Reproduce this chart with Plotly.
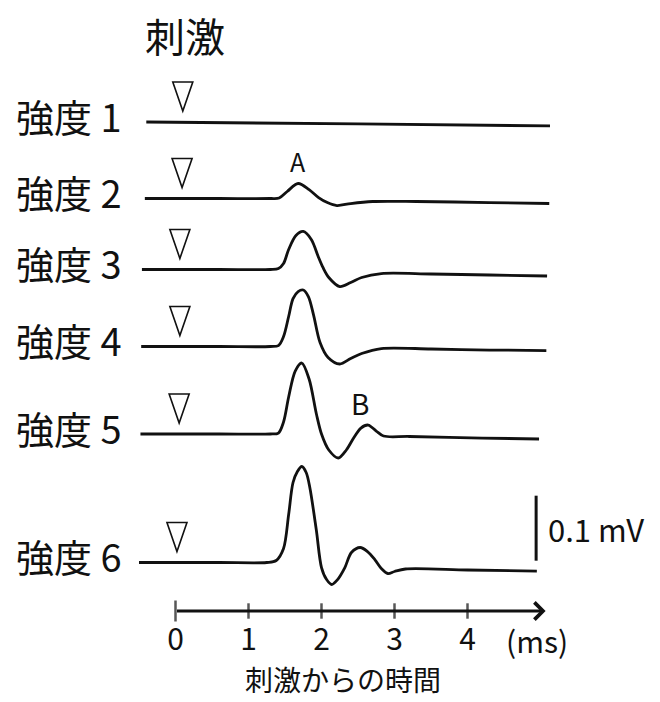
import plotly.graph_objects as go

# ---------------- data ----------------
row_labels = ["強度 1", "強度 2", "強度 3", "強度 4", "強度 5", "強度 6"]

# time (ms) and amplitude (mV, relative to each trace's baseline)
t1 = [-0.40, 2.50, 5.13]
v1 = [0.0000, -0.0030, -0.0060]

t2 = [-0.42, 0.60, 1.30, 1.42, 1.53, 1.68, 1.83, 1.96, 2.08, 2.21, 2.40, 2.70, 3.30, 4.30, 5.12]
v2 = [0.0000, 0.0000, 0.0000, 0.0008, 0.0108, 0.0231, 0.0138, 0.0015, -0.0062, -0.0108,
      -0.0077, -0.0046, -0.0046, -0.0062, -0.0077]

t3 = [-0.46, 0.60, 1.30, 1.41, 1.48, 1.55, 1.65, 1.75, 1.86, 1.96, 2.02, 2.10, 2.25, 2.40,
      2.55, 2.82, 3.50, 4.30, 5.09]
v3 = [0.0000, 0.0000, 0.0000, 0.0015, 0.0092, 0.0308, 0.0523, 0.0585, 0.0462, 0.0185, 0.0031,
      -0.0123, -0.0262, -0.0200, -0.0123, -0.0062, -0.0069, -0.0085, -0.0100]

t4 = [-0.47, 0.60, 1.30, 1.41, 1.48, 1.55, 1.61, 1.68, 1.75, 1.82, 1.89, 1.98, 2.09, 2.25,
      2.40, 2.55, 2.82, 3.50, 4.30, 5.08]
v4 = [0.0000, 0.0000, 0.0000, 0.0015, 0.0154, 0.0462, 0.0738, 0.0846, 0.0869, 0.0769, 0.0492,
      0.0062, -0.0169, -0.0269, -0.0185, -0.0108, -0.0031, -0.0038, -0.0054, -0.0062]

t5 = [-0.48, 0.60, 1.30, 1.41, 1.48, 1.55, 1.64, 1.73, 1.83, 1.93, 2.00, 2.10, 2.23, 2.34,
      2.44, 2.54, 2.64, 2.75, 2.85, 3.20, 4.20, 4.98]
v5 = [0.0000, 0.0000, 0.0000, 0.0015, 0.0185, 0.0569, 0.0969, 0.1092, 0.0846, 0.0308, 0.0000,
      -0.0246, -0.0369, -0.0246, -0.0062, 0.0092, 0.0138, 0.0046, -0.0031, -0.0038, -0.0062, -0.0077]

t6 = [-0.50, 0.60, 1.25, 1.38, 1.48, 1.55, 1.61, 1.67, 1.73, 1.79, 1.84, 1.93, 2.00, 2.07,
      2.14, 2.22, 2.32, 2.41, 2.53, 2.63, 2.73, 2.82, 2.91, 3.00, 3.15, 4.00, 4.95]
v6 = [0.0000, 0.0000, 0.0000, 0.0031, 0.0215, 0.0738, 0.1231, 0.1400, 0.1477, 0.1385, 0.1154,
      0.0492, -0.0077, -0.0262, -0.0338, -0.0262, -0.0077, 0.0154, 0.0231, 0.0169, 0.0046,
      -0.0092, -0.0169, -0.0138, -0.0100, -0.0115, -0.0131]

trace_t = [t1, t2, t3, t4, t5, t6]
trace_v = [v1, v2, v3, v4, v5, v6]

# stimulus marker times (ms) for each row
stim_t = [0.10, 0.09, 0.06, 0.06, 0.05, 0.02]

# time-axis ticks
tick_vals = [0, 1, 2, 3, 4]
tick_text = ["0", "1", "2", "3", "4"]
axis_end = 5.07          # arrow tip (ms)
unit_label = "(ms)"
axis_title = "刺激からの時間"

# scale bar
scale_mv = 0.1
scale_label = "0.1 mV"

# labelled peaks: text, row index, index of the peak sample, label time
peak_labels = ["A", "B"]
peak_rows = [1, 4]
peak_idx = [5, 16]
peak_label_t = [1.68, 2.53]

# ---------------- layout positions ----------------
row_offsets = [0.7523, 0.6346, 0.5254, 0.4069, 0.2723, 0.0746]   # baseline of each row (mV above time axis)
scale_t = 4.94
scale_y0 = 0.0774

FONT = "Noto Sans CJK JP"
INK = "#111111"

fig = go.Figure()

for tt, vv, off in zip(trace_t, trace_v, row_offsets):
    fig.add_trace(go.Scatter(
        x=tt, y=[off + v for v in vv], mode="lines",
        line=dict(color=INK, width=2.8, shape="spline", smoothing=0.9),
        hoverinfo="skip", showlegend=False))

# time axis tick marks
fig.add_trace(go.Scatter(
    x=tick_vals, y=[0] * len(tick_vals), mode="markers",
    marker=dict(symbol="line-ns", size=[15] + [11] * (len(tick_vals) - 1),
                line=dict(color=INK, width=2.5)),
    hoverinfo="skip", showlegend=False))

# scale bar
fig.add_trace(go.Scatter(
    x=[scale_t, scale_t], y=[scale_y0, scale_y0 + scale_mv], mode="lines",
    line=dict(color=INK, width=3), hoverinfo="skip", showlegend=False))

# stimulus triangles (pixel-sized glyphs anchored at stimulus time / row baseline)
for st, off in zip(stim_t, row_offsets):
    fig.add_shape(type="path", xref="x", yref="y",
                  xsizemode="pixel", ysizemode="pixel",
                  xanchor=st, yanchor=off,
                  path="M-10,40 L10,40 L0,11 Z",
                  line=dict(color=INK, width=1.6), fillcolor="rgba(0,0,0,0)")

annotations = []
# time axis arrow
annotations.append(dict(x=axis_end, y=0, xref="x", yref="y",
                        ax=tick_vals[0], ay=0, axref="x", ayref="y",
                        showarrow=True, arrowhead=4, arrowsize=1.1, arrowwidth=3,
                        arrowcolor=INK, text=""))
# row labels
for lab, off in zip(row_labels, row_offsets):
    annotations.append(dict(x=124 / 660, xref="paper", xanchor="right",
                            y=off, yref="y", yanchor="middle", yshift=7,
                            text=lab, showarrow=False,
                            font=dict(family=FONT, size=38, color=INK)))
# title
annotations.append(dict(x=185 / 660, xref="paper", y=1 - 35 / 702, yref="paper",
                        xanchor="center", yanchor="middle", text="刺激", showarrow=False,
                        font=dict(family=FONT, size=40, color=INK)))
# peak labels
for lab, ri, pi, lt, fs in zip(peak_labels, peak_rows, peak_idx, peak_label_t, [25, 28]):
    pk = trace_v[ri][pi] + row_offsets[ri]
    annotations.append(dict(x=lt, y=pk, xref="x", yref="y",
                            xanchor="center", yanchor="middle", yshift=22,
                            text=lab, showarrow=False,
                            font=dict(family=FONT, size=fs, color=INK)))
# unit label
annotations.append(dict(x=4.95, y=0, xref="x", yref="y", xanchor="center",
                        yanchor="middle", yshift=-29, text=unit_label, showarrow=False,
                        font=dict(family=FONT, size=30, color=INK)))
# scale label
annotations.append(dict(x=scale_t, y=scale_y0 + scale_mv / 2, xref="x", yref="y",
                        xanchor="left", yanchor="middle", xshift=10,
                        text=scale_label, showarrow=False,
                        font=dict(family=FONT, size=31, color=INK)))
# axis title
annotations.append(dict(x=2.30, y=0, xref="x", yref="paper", xanchor="center",
                        yanchor="bottom", yshift=2, borderpad=0, text=axis_title,
                        showarrow=False, font=dict(family=FONT, size=28, color=INK)))

x_lo = -175.5 / 73.0
x_hi = (660 - 175.5) / 73.0
y_lo = (611 - 702) / 650.0
y_hi = 611 / 650.0

fig.update_layout(
    width=660, height=702,
    margin=dict(l=0, r=0, t=0, b=0),
    paper_bgcolor="white", plot_bgcolor="white",
    annotations=annotations,
    xaxis=dict(range=[x_lo, x_hi], showgrid=False, zeroline=False, showline=False,
               tickmode="array", tickvals=tick_vals, ticktext=tick_text,
               ticks="", anchor="free", position=(702 - 611) / 702,
               ticklabelstandoff=8,
               tickfont=dict(family=FONT, size=30, color=INK), fixedrange=True),
    yaxis=dict(range=[y_lo, y_hi], showgrid=False, zeroline=False, showline=False,
               showticklabels=False, fixedrange=True),
    showlegend=False,
)

fig.write_html("out.html", config={"displayModeBar": False},
               post_script="document.body.style.margin='0';document.body.style.overflow='hidden';")
